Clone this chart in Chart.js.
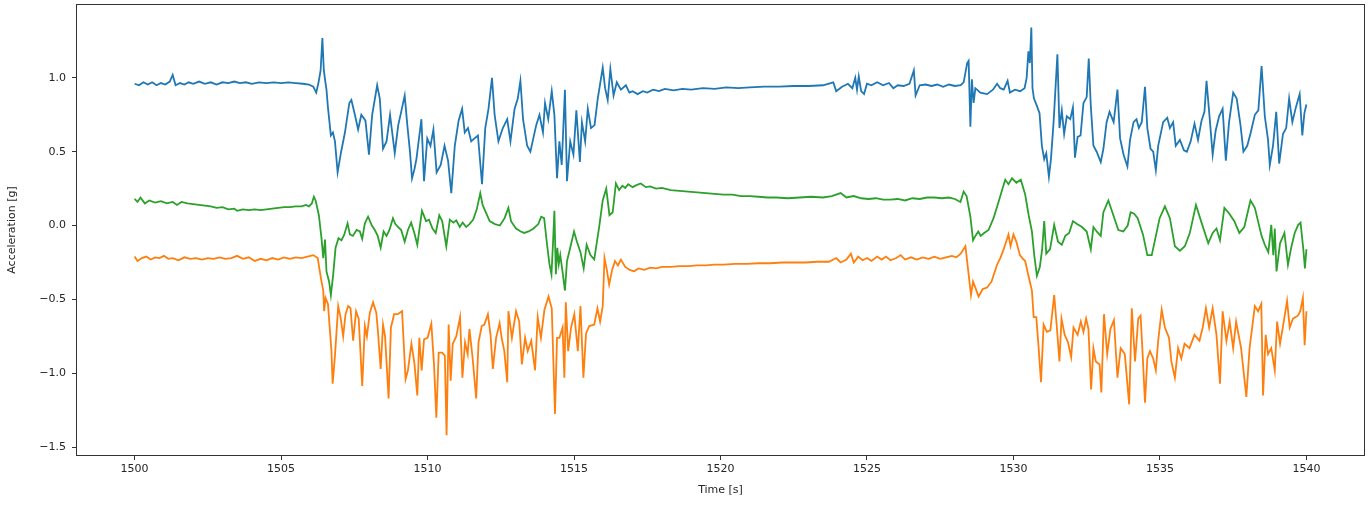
<!DOCTYPE html>
<html>
<head>
<meta charset="utf-8">
<title>Acceleration</title>
<script src="https://cdn.jsdelivr.net/npm/chart.js@4"></script>
<style>
  body { margin: 0; background: #fff; }
</style>
</head>
<body>
<canvas id="accel-chart" width="1372" height="505"></canvas>
<script>
const xTicks = [1500, 1505, 1510, 1515, 1520, 1525, 1530, 1535, 1540]
const yTicks = [-1.5, -1.0, -0.5, 0.0, 0.5, 1.0]

// blue trace
const blueTime = [1500.0, 1500.15, 1500.3, 1500.45, 1500.6, 1500.75, 1500.9, 1501.05, 1501.2, 1501.3, 1501.4, 1501.55, 1501.7, 1501.85, 1502.0, 1502.2, 1502.4, 1502.6, 1502.8, 1503.0, 1503.2, 1503.4, 1503.6, 1503.8, 1504.0, 1504.25, 1504.5, 1504.75, 1505.0, 1505.25, 1505.5, 1505.75, 1505.95, 1506.1, 1506.2, 1506.28, 1506.35, 1506.41, 1506.46, 1506.5, 1506.55, 1506.6, 1506.7, 1506.77, 1506.84, 1506.93, 1507.05, 1507.18, 1507.33, 1507.4, 1507.52, 1507.63, 1507.74, 1507.88, 1508.0, 1508.11, 1508.28, 1508.37, 1508.48, 1508.6, 1508.72, 1508.8, 1508.88, 1509.0, 1509.1, 1509.22, 1509.31, 1509.4, 1509.47, 1509.55, 1509.62, 1509.79, 1509.88, 1509.99, 1510.1, 1510.2, 1510.31, 1510.45, 1510.58, 1510.7, 1510.81, 1510.93, 1511.06, 1511.18, 1511.27, 1511.38, 1511.49, 1511.6, 1511.72, 1511.86, 1511.97, 1512.08, 1512.2, 1512.29, 1512.42, 1512.57, 1512.72, 1512.83, 1512.97, 1513.08, 1513.17, 1513.26, 1513.4, 1513.51, 1513.71, 1513.82, 1513.94, 1514.01, 1514.12, 1514.24, 1514.33, 1514.42, 1514.5, 1514.58, 1514.69, 1514.76, 1514.87, 1514.98, 1515.08, 1515.2, 1515.27, 1515.38, 1515.47, 1515.58, 1515.7, 1515.81, 1515.98, 1516.06, 1516.15, 1516.24, 1516.35, 1516.46, 1516.6, 1516.77, 1516.89, 1517.0, 1517.17, 1517.35, 1517.5, 1517.7, 1517.9, 1518.1, 1518.4, 1518.7, 1519.0, 1519.4, 1519.8, 1520.2, 1520.6, 1521.0, 1521.5, 1522.0, 1522.5, 1523.0, 1523.5, 1523.85, 1523.95, 1524.15, 1524.35, 1524.5, 1524.6, 1524.66, 1524.72, 1524.8, 1524.9, 1525.0, 1525.15, 1525.35, 1525.55, 1525.75, 1525.9, 1526.05, 1526.25, 1526.45, 1526.6, 1526.66, 1526.8, 1527.0, 1527.2, 1527.4, 1527.6, 1527.8, 1528.0, 1528.2, 1528.3, 1528.42, 1528.47, 1528.53, 1528.58, 1528.64, 1528.7, 1528.87, 1529.1, 1529.3, 1529.44, 1529.55, 1529.67, 1529.8, 1529.88, 1530.05, 1530.23, 1530.38, 1530.45, 1530.51, 1530.56, 1530.61, 1530.65, 1530.7, 1530.8, 1530.89, 1530.97, 1531.05, 1531.12, 1531.21, 1531.28, 1531.37, 1531.5, 1531.57, 1531.65, 1531.73, 1531.82, 1531.94, 1532.03, 1532.1, 1532.19, 1532.29, 1532.39, 1532.5, 1532.57, 1532.64, 1532.73, 1532.84, 1532.98, 1533.07, 1533.18, 1533.28, 1533.42, 1533.55, 1533.64, 1533.76, 1533.89, 1533.98, 1534.1, 1534.2, 1534.28, 1534.38, 1534.49, 1534.57, 1534.68, 1534.77, 1534.86, 1534.94, 1535.11, 1535.25, 1535.34, 1535.45, 1535.54, 1535.68, 1535.82, 1535.92, 1536.05, 1536.18, 1536.3, 1536.42, 1536.52, 1536.59, 1536.68, 1536.8, 1536.9, 1537.02, 1537.14, 1537.25, 1537.36, 1537.5, 1537.62, 1537.75, 1537.85, 1537.98, 1538.1, 1538.24, 1538.36, 1538.47, 1538.58, 1538.69, 1538.75, 1538.86, 1538.97, 1539.07, 1539.2, 1539.31, 1539.41, 1539.52, 1539.64, 1539.77, 1539.86, 1539.93, 1540.0]
const blueAccel = [0.96, 0.95, 0.97, 0.955, 0.97, 0.95, 0.965, 0.955, 0.975, 1.02, 0.95, 0.965, 0.955, 0.97, 0.96, 0.975, 0.96, 0.97, 0.955, 0.97, 0.965, 0.975, 0.965, 0.97, 0.96, 0.97, 0.965, 0.97, 0.965, 0.97, 0.965, 0.96, 0.955, 0.94, 0.90, 0.97, 1.05, 1.27, 1.05, 0.99, 0.92, 0.80, 0.61, 0.63, 0.57, 0.36, 0.50, 0.63, 0.83, 0.85, 0.75, 0.65, 0.75, 0.71, 0.48, 0.75, 0.95, 0.86, 0.52, 0.57, 0.75, 0.62, 0.49, 0.68, 0.77, 0.88, 0.68, 0.50, 0.32, 0.38, 0.45, 0.72, 0.30, 0.59, 0.54, 0.65, 0.36, 0.41, 0.54, 0.44, 0.22, 0.54, 0.71, 0.79, 0.63, 0.66, 0.57, 0.59, 0.61, 0.28, 0.66, 0.79, 1.0, 0.75, 0.57, 0.66, 0.72, 0.57, 0.79, 0.86, 0.98, 0.72, 0.54, 0.50, 0.68, 0.75, 0.63, 0.83, 0.72, 0.91, 0.75, 0.32, 0.57, 0.41, 0.92, 0.30, 0.57, 0.48, 0.78, 0.43, 0.70, 0.57, 0.79, 0.66, 0.68, 0.86, 1.07, 0.93, 0.85, 1.06, 0.88, 0.97, 0.92, 0.95, 0.90, 0.91, 0.89, 0.91, 0.90, 0.92, 0.91, 0.925, 0.915, 0.925, 0.92, 0.93, 0.925, 0.935, 0.93, 0.935, 0.94, 0.94, 0.945, 0.945, 0.95, 0.97, 0.91, 0.94, 0.96, 0.93, 1.0, 0.92, 1.01, 0.91, 0.89, 0.96, 0.95, 0.97, 0.95, 0.965, 0.93, 0.95, 0.945, 0.96, 1.05, 0.88, 0.95, 0.955, 0.945, 0.955, 0.94, 0.955, 0.945, 0.95, 0.97, 1.10, 1.115, 0.67, 0.99, 0.83, 0.93, 0.90, 0.89, 0.92, 0.96, 0.93, 0.92, 0.98, 0.90, 0.92, 0.91, 0.93, 1.00, 1.18, 1.10, 1.34, 0.93, 0.86, 0.81, 0.76, 0.54, 0.45, 0.49, 0.33, 0.45, 0.70, 1.16, 0.66, 0.78, 0.62, 0.74, 0.72, 0.80, 0.46, 0.60, 0.61, 0.83, 0.87, 1.13, 0.81, 0.54, 0.50, 0.43, 0.52, 0.70, 0.77, 0.70, 0.92, 0.59, 0.48, 0.40, 0.58, 0.70, 0.72, 0.66, 0.70, 0.94, 0.66, 0.52, 0.50, 0.375, 0.54, 0.70, 0.73, 0.66, 0.70, 0.54, 0.58, 0.51, 0.50, 0.57, 0.69, 0.58, 0.71, 0.77, 0.98, 0.77, 0.48, 0.64, 0.74, 0.79, 0.44, 0.70, 0.90, 0.86, 0.68, 0.50, 0.54, 0.63, 0.75, 0.78, 1.08, 0.74, 0.58, 0.41, 0.54, 0.77, 0.42, 0.62, 0.66, 0.86, 0.70, 0.80, 0.89, 0.61, 0.76, 0.82]

// orange trace
const orangeTime = [1500.0, 1500.1, 1500.25, 1500.4, 1500.55, 1500.7, 1500.85, 1501.0, 1501.15, 1501.3, 1501.5, 1501.7, 1501.9, 1502.1, 1502.3, 1502.5, 1502.7, 1502.9, 1503.1, 1503.3, 1503.5, 1503.7, 1503.9, 1504.1, 1504.3, 1504.5, 1504.7, 1504.9, 1505.1, 1505.3, 1505.5, 1505.7, 1505.9, 1506.1, 1506.25, 1506.38, 1506.44, 1506.47, 1506.52, 1506.6, 1506.72, 1506.76, 1506.84, 1506.95, 1507.03, 1507.12, 1507.2, 1507.29, 1507.37, 1507.46, 1507.56, 1507.65, 1507.77, 1507.86, 1507.93, 1508.03, 1508.14, 1508.25, 1508.3, 1508.4, 1508.48, 1508.55, 1508.67, 1508.75, 1508.86, 1508.98, 1509.13, 1509.25, 1509.33, 1509.45, 1509.55, 1509.65, 1509.72, 1509.8, 1509.88, 1510.0, 1510.13, 1510.22, 1510.3, 1510.38, 1510.5, 1510.59, 1510.65, 1510.72, 1510.79, 1510.86, 1510.98, 1511.11, 1511.19, 1511.28, 1511.37, 1511.43, 1511.54, 1511.66, 1511.74, 1511.85, 1511.94, 1512.06, 1512.15, 1512.23, 1512.34, 1512.46, 1512.53, 1512.62, 1512.72, 1512.76, 1512.88, 1513.02, 1513.13, 1513.22, 1513.33, 1513.42, 1513.54, 1513.67, 1513.76, 1513.87, 1513.99, 1514.13, 1514.24, 1514.35, 1514.42, 1514.5, 1514.61, 1514.67, 1514.72, 1514.8, 1514.9, 1515.01, 1515.13, 1515.22, 1515.32, 1515.41, 1515.52, 1515.69, 1515.8, 1515.89, 1515.98, 1516.04, 1516.12, 1516.2, 1516.3, 1516.4, 1516.5, 1516.6, 1516.75, 1516.9, 1517.05, 1517.2, 1517.4, 1517.6, 1517.8, 1518.0, 1518.3, 1518.6, 1518.9, 1519.2, 1519.5, 1519.8, 1520.1, 1520.5, 1520.9, 1521.3, 1521.7, 1522.1, 1522.5, 1522.9, 1523.3, 1523.7, 1523.95, 1524.1, 1524.3, 1524.45, 1524.55, 1524.7, 1524.85, 1525.0, 1525.15, 1525.35, 1525.5, 1525.65, 1525.8, 1526.0, 1526.15, 1526.3, 1526.5, 1526.7, 1526.9, 1527.1, 1527.3, 1527.5, 1527.7, 1527.9, 1528.05, 1528.2, 1528.36, 1528.47, 1528.55, 1528.62, 1528.7, 1528.81, 1528.95, 1529.1, 1529.25, 1529.35, 1529.44, 1529.55, 1529.65, 1529.75, 1529.83, 1529.9, 1530.0, 1530.1, 1530.22, 1530.3, 1530.4, 1530.5, 1530.63, 1530.69, 1530.78, 1530.86, 1530.94, 1531.03, 1531.14, 1531.26, 1531.39, 1531.47, 1531.57, 1531.64, 1531.75, 1531.86, 1531.97, 1532.05, 1532.19, 1532.3, 1532.39, 1532.48, 1532.56, 1532.65, 1532.73, 1532.81, 1532.94, 1533.0, 1533.09, 1533.2, 1533.31, 1533.43, 1533.55, 1533.66, 1533.8, 1533.95, 1534.04, 1534.15, 1534.26, 1534.34, 1534.41, 1534.49, 1534.57, 1534.66, 1534.77, 1534.86, 1534.94, 1535.06, 1535.17, 1535.31, 1535.39, 1535.51, 1535.62, 1535.73, 1535.84, 1536.01, 1536.18, 1536.35, 1536.46, 1536.57, 1536.68, 1536.8, 1536.93, 1537.05, 1537.14, 1537.27, 1537.38, 1537.5, 1537.6, 1537.77, 1537.95, 1538.06, 1538.24, 1538.35, 1538.46, 1538.52, 1538.61, 1538.69, 1538.8, 1538.92, 1539.0, 1539.1, 1539.21, 1539.34, 1539.43, 1539.54, 1539.71, 1539.79, 1539.88, 1539.94, 1540.0]
const orangeAccel = [-0.21, -0.24, -0.22, -0.21, -0.23, -0.215, -0.22, -0.205, -0.225, -0.22, -0.235, -0.215, -0.225, -0.22, -0.23, -0.22, -0.225, -0.215, -0.225, -0.22, -0.205, -0.225, -0.215, -0.24, -0.225, -0.235, -0.22, -0.23, -0.215, -0.225, -0.215, -0.22, -0.21, -0.20, -0.22, -0.38, -0.44, -0.58, -0.49, -0.53, -0.85, -1.07, -0.88, -0.545, -0.62, -0.75, -0.60, -0.545, -0.56, -0.78, -0.58, -0.63, -1.085, -0.68, -0.75, -0.59, -0.52, -0.59, -0.70, -0.97, -0.67, -0.75, -1.17, -0.69, -0.60, -0.60, -0.58, -1.04, -0.98, -0.80, -0.93, -1.15, -0.76, -0.98, -0.77, -0.76, -0.665, -0.94, -1.30, -0.86, -0.86, -0.88, -1.42, -0.67, -1.05, -0.80, -0.75, -0.62, -1.03, -0.79, -0.87, -0.70, -0.90, -1.17, -0.79, -0.68, -0.67, -0.60, -0.74, -0.97, -0.76, -0.66, -0.76, -0.85, -1.06, -0.58, -0.76, -0.58, -0.65, -0.94, -0.76, -0.85, -0.78, -0.98, -0.62, -0.76, -0.57, -0.48, -0.56, -1.275, -0.76, -0.76, -0.69, -1.03, -0.52, -0.85, -0.69, -0.60, -0.85, -0.545, -1.03, -0.73, -0.68, -0.67, -0.56, -0.65, -0.545, -0.22, -0.30, -0.40, -0.30, -0.24, -0.27, -0.23, -0.28, -0.30, -0.31, -0.29, -0.30, -0.285, -0.29, -0.28, -0.28, -0.275, -0.275, -0.27, -0.27, -0.265, -0.265, -0.26, -0.26, -0.255, -0.255, -0.25, -0.25, -0.25, -0.245, -0.245, -0.22, -0.25, -0.23, -0.19, -0.25, -0.21, -0.235, -0.22, -0.24, -0.21, -0.23, -0.21, -0.235, -0.22, -0.20, -0.23, -0.215, -0.23, -0.215, -0.225, -0.21, -0.225, -0.215, -0.205, -0.215, -0.19, -0.14, -0.33, -0.47, -0.38, -0.42, -0.48, -0.43, -0.42, -0.38, -0.32, -0.265, -0.22, -0.17, -0.11, -0.06, -0.14, -0.06, -0.11, -0.20, -0.22, -0.24, -0.33, -0.44, -0.62, -0.62, -0.83, -1.06, -0.67, -0.72, -0.71, -0.47, -0.66, -0.92, -0.63, -0.74, -0.79, -0.89, -0.69, -0.74, -0.65, -0.72, -0.63, -0.70, -1.11, -0.83, -0.92, -0.94, -1.13, -0.60, -0.87, -0.70, -0.64, -1.03, -0.83, -0.87, -1.21, -0.56, -0.92, -0.63, -0.61, -0.87, -1.20, -0.90, -0.85, -0.90, -0.98, -0.78, -0.57, -0.69, -0.76, -0.92, -1.03, -0.83, -0.90, -0.80, -0.83, -0.74, -0.78, -0.69, -0.56, -0.69, -0.56, -0.74, -1.07, -0.58, -0.78, -0.65, -0.83, -0.65, -0.83, -1.16, -0.83, -0.545, -0.58, -0.53, -1.15, -0.74, -0.87, -0.83, -0.98, -0.65, -0.80, -0.67, -0.51, -0.69, -0.63, -0.61, -0.58, -0.49, -0.81, -0.58]

// green trace
const greenTime = [1500.0, 1500.1, 1500.2, 1500.35, 1500.5, 1500.7, 1500.9, 1501.1, 1501.3, 1501.45, 1501.6, 1501.8, 1502.0, 1502.2, 1502.4, 1502.6, 1502.8, 1503.0, 1503.2, 1503.4, 1503.5, 1503.7, 1503.9, 1504.1, 1504.3, 1504.5, 1504.7, 1504.9, 1505.1, 1505.3, 1505.5, 1505.7, 1505.85, 1505.95, 1506.05, 1506.12, 1506.18, 1506.29, 1506.38, 1506.44, 1506.5, 1506.55, 1506.64, 1506.7, 1506.78, 1506.86, 1506.96, 1507.06, 1507.16, 1507.27, 1507.35, 1507.45, 1507.58, 1507.69, 1507.77, 1507.86, 1507.97, 1508.1, 1508.2, 1508.3, 1508.4, 1508.5, 1508.6, 1508.7, 1508.82, 1508.9, 1509.0, 1509.1, 1509.22, 1509.33, 1509.44, 1509.55, 1509.65, 1509.81, 1509.95, 1510.05, 1510.17, 1510.28, 1510.4, 1510.5, 1510.64, 1510.76, 1510.88, 1510.98, 1511.1, 1511.2, 1511.32, 1511.43, 1511.56, 1511.68, 1511.8, 1511.88, 1511.99, 1512.12, 1512.3, 1512.47, 1512.63, 1512.76, 1512.85, 1513.02, 1513.18, 1513.3, 1513.45, 1513.62, 1513.78, 1513.88, 1513.98, 1514.08, 1514.16, 1514.23, 1514.28, 1514.33, 1514.38, 1514.43, 1514.48, 1514.53, 1514.6, 1514.69, 1514.76, 1514.87, 1515.0, 1515.1, 1515.22, 1515.33, 1515.43, 1515.56, 1515.69, 1515.86, 1515.98, 1516.1, 1516.21, 1516.32, 1516.43, 1516.54, 1516.65, 1516.75, 1516.85, 1517.0, 1517.15, 1517.28, 1517.45, 1517.6, 1517.8, 1518.0, 1518.3, 1518.6, 1518.9, 1519.2, 1519.5, 1519.8, 1520.1, 1520.4, 1520.7, 1521.0, 1521.3, 1521.6, 1521.9, 1522.3, 1522.7, 1523.1, 1523.5, 1523.8, 1524.1, 1524.3, 1524.55, 1524.8, 1525.05, 1525.3, 1525.55, 1525.8, 1526.05, 1526.3, 1526.55, 1526.8, 1527.05, 1527.3, 1527.55, 1527.8, 1528.0, 1528.19, 1528.3, 1528.4, 1528.53, 1528.62, 1528.7, 1528.8, 1528.88, 1529.0, 1529.15, 1529.32, 1529.49, 1529.64, 1529.72, 1529.83, 1529.95, 1530.1, 1530.25, 1530.4, 1530.52, 1530.63, 1530.71, 1530.8, 1530.9, 1530.98, 1531.05, 1531.12, 1531.25, 1531.39, 1531.52, 1531.65, 1531.77, 1531.9, 1532.03, 1532.17, 1532.34, 1532.5, 1532.64, 1532.73, 1532.84, 1532.98, 1533.07, 1533.24, 1533.41, 1533.58, 1533.75, 1533.9, 1534.0, 1534.12, 1534.24, 1534.42, 1534.57, 1534.72, 1534.84, 1534.99, 1535.17, 1535.34, 1535.51, 1535.68, 1535.85, 1536.02, 1536.23, 1536.42, 1536.65, 1536.8, 1536.93, 1537.05, 1537.2, 1537.37, 1537.54, 1537.71, 1537.88, 1538.09, 1538.24, 1538.36, 1538.47, 1538.58, 1538.7, 1538.8, 1538.87, 1538.92, 1538.98, 1539.1, 1539.25, 1539.37, 1539.48, 1539.6, 1539.72, 1539.8, 1539.89, 1539.95, 1540.0]
const greenAccel = [0.18, 0.16, 0.19, 0.15, 0.17, 0.155, 0.165, 0.15, 0.16, 0.14, 0.16, 0.15, 0.145, 0.14, 0.135, 0.13, 0.12, 0.125, 0.11, 0.115, 0.10, 0.11, 0.105, 0.11, 0.105, 0.11, 0.115, 0.12, 0.125, 0.125, 0.13, 0.13, 0.14, 0.13, 0.15, 0.195, 0.17, 0.07, -0.085, -0.22, -0.095, -0.31, -0.38, -0.47, -0.33, -0.15, -0.085, -0.10, -0.06, 0.015, -0.06, -0.07, -0.03, -0.04, -0.09, 0.015, 0.06, 0.0, -0.03, -0.07, -0.15, -0.04, -0.07, -0.03, 0.05, 0.01, -0.01, -0.03, -0.11, -0.03, 0.02, -0.05, -0.13, 0.10, 0.03, 0.04, -0.02, -0.05, 0.07, 0.03, -0.14, 0.04, 0.02, 0.035, -0.01, 0.02, -0.01, 0.01, 0.04, 0.11, 0.22, 0.14, 0.09, 0.03, 0.01, 0.0, 0.05, 0.12, 0.03, -0.02, -0.04, -0.05, -0.04, -0.02, 0.01, 0.06, 0.05, -0.13, -0.26, -0.33, -0.13, 0.10, -0.33, -0.15, -0.26, -0.20, -0.30, -0.44, -0.24, -0.15, -0.04, -0.11, -0.18, -0.29, -0.13, -0.20, -0.23, -0.007, 0.17, 0.25, 0.07, 0.09, 0.285, 0.24, 0.27, 0.255, 0.28, 0.26, 0.275, 0.285, 0.26, 0.265, 0.25, 0.255, 0.24, 0.235, 0.23, 0.225, 0.22, 0.215, 0.21, 0.21, 0.20, 0.20, 0.195, 0.19, 0.19, 0.185, 0.19, 0.195, 0.19, 0.20, 0.22, 0.19, 0.20, 0.185, 0.18, 0.185, 0.175, 0.175, 0.18, 0.17, 0.185, 0.18, 0.19, 0.19, 0.185, 0.19, 0.18, 0.16, 0.23, 0.20, 0.06, -0.10, -0.07, -0.04, -0.07, -0.05, -0.03, 0.05, 0.16, 0.26, 0.31, 0.28, 0.32, 0.29, 0.31, 0.21, 0.07, -0.04, -0.20, -0.34, -0.28, -0.16, 0.03, -0.19, -0.16, 0.005, -0.11, -0.13, -0.07, -0.05, 0.03, 0.01, -0.01, -0.04, -0.16, -0.01, -0.04, -0.07, 0.09, 0.17, 0.07, -0.03, -0.04, 0.0, 0.09, 0.08, 0.05, -0.06, -0.20, -0.20, -0.09, 0.05, 0.13, 0.05, -0.14, -0.17, -0.14, -0.05, 0.14, 0.02, -0.12, -0.05, -0.02, -0.10, 0.12, 0.08, 0.03, -0.05, -0.01, 0.17, 0.12, 0.02, -0.07, -0.13, -0.18, 0.005, -0.20, -0.02, -0.31, -0.12, -0.05, -0.265, -0.15, -0.05, 0.005, 0.02, -0.15, -0.29, -0.16]

const toPoints = (times, values) => times.map((t, i) => ({ x: t, y: values[i] }))

// matplotlib style box round the plot area
const frame = {
    id: 'frame',
    afterDraw(chart) {
        const { ctx, chartArea: a } = chart
        ctx.save()
        ctx.strokeStyle = '#333'
        ctx.lineWidth = 1
        ctx.strokeRect(Math.round(a.left) + 0.5, Math.round(a.top) + 0.5,
            Math.round(a.right - a.left) - 1, Math.round(a.bottom - a.top) - 1)
        ctx.restore()
    }
}

Chart.defaults.font.family = "'DejaVu Sans', sans-serif"
Chart.defaults.font.size = 11
Chart.defaults.color = '#262626'

const ctx = document.getElementById('accel-chart')

new Chart(ctx, {
    type: 'line',
    data: {
        datasets: [{
            data: toPoints(blueTime, blueAccel),
            borderColor: '#1f77b4',
            order: 3
        }, {
            data: toPoints(orangeTime, orangeAccel),
            borderColor: '#ff7f0e',
            order: 2
        }, {
            data: toPoints(greenTime, greenAccel),
            borderColor: '#2ca02c',
            order: 1
        }]
    },
    options: {
        responsive: false,
        animation: false,
        layout: { padding: { top: 4, right: 7, left: 0, bottom: 0 } },
        elements: {
            line: { borderWidth: 1.8, tension: 0 },
            point: { radius: 0 }
        },
        plugins: {
            legend: { display: false },
            tooltip: { enabled: false }
        },
        scales: {
            x: {
                type: 'linear',
                min: 1498,
                max: 1542,
                afterBuildTicks: (scale) => { scale.ticks = xTicks.map(v => ({ value: v })) },
                afterFit: (scale) => {
                    scale.height = 49
                    scale.paddingLeft = 0
                    scale.paddingRight = 0
                },
                ticks: { padding: 3, maxRotation: 0, callback: (v) => String(v) },
                grid: { drawOnChartArea: false, tickLength: 4, tickColor: '#333' },
                border: { display: false },
                title: { display: true, text: 'Time [s]', padding: { top: 0, bottom: 8 } }
            },
            y: {
                min: -1.56,
                max: 1.50,
                afterBuildTicks: (scale) => { scale.ticks = yTicks.map(v => ({ value: v })) },
                afterFit: (scale) => {
                    scale.width = 76
                    scale.paddingTop = 0
                    scale.paddingBottom = 0
                },
                ticks: { padding: 6, callback: (v) => v.toFixed(1).replace('-', '\u2212') },
                grid: { drawOnChartArea: false, tickLength: 4, tickColor: '#333' },
                border: { display: false },
                title: { display: true, text: 'Acceleration [g]', padding: { top: 6, bottom: 0 } }
            }
        }
    },
    plugins: [frame]
})
</script>
</body>
</html>
